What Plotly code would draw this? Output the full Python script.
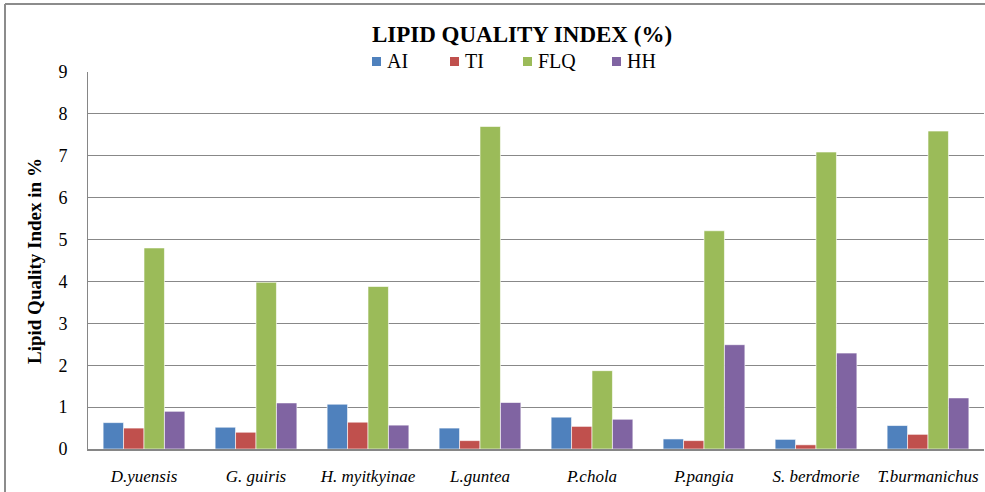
import plotly.graph_objects as go

categories = ["D.yuensis", "G. guiris", "H. myitkyinae", "L.guntea",
              "P.chola", "P.pangia", "S. berdmorie", "T.burmanichus"]
ai = [0.63, 0.52, 1.07, 0.50, 0.76, 0.24, 0.23, 0.56]
ti = [0.50, 0.40, 0.64, 0.20, 0.54, 0.20, 0.10, 0.35]
flq = [4.80, 3.98, 3.88, 7.70, 1.87, 5.21, 7.09, 7.59]
hh = [0.90, 1.10, 0.57, 1.11, 0.71, 2.49, 2.29, 1.22]
series_names = ["AI", "TI", "FLQ", "HH"]
series_colors = ["#4F81BD", "#C0504D", "#9BBB59", "#8064A2"]
y_ticks = [0, 1, 2, 3, 4, 5, 6, 7, 8, 9]

FONT = "Liberation Serif, Times New Roman, serif"

# plot-area geometry in pixels (used to place paper-referenced decorations)
L, R, T, B = 88, 984, 72, 449
W, H = R - L, B - T


def px(x):
    return (x - L) / W


def py(y):
    return (B - y) / H


fig = go.Figure()
for name, vals, col in zip(series_names, [ai, ti, flq, hh], series_colors):
    fig.add_trace(go.Bar(
        name=name, x=categories, y=vals, showlegend=False,
        marker=dict(color=col, line=dict(color="rgba(255,255,255,0.6)", width=1)),
    ))

fig.update_layout(
    width=985, height=492,
    margin=dict(l=L, r=985 - R, t=T, b=492 - B, autoexpand=False),
    paper_bgcolor="white", plot_bgcolor="white",
    barmode="group", bargap=0.27, bargroupgap=0,
    font=dict(family=FONT, color="black"),
    title=dict(text="<b>LIPID QUALITY INDEX (%)</b>", x=522 / 985, xanchor="center",
               y=1 - 34 / 492, yanchor="middle",
               font=dict(family=FONT, size=23, color="black")),
    showlegend=False,
)

fig.update_xaxes(
    automargin=False,
    showline=True, linecolor="#868686", linewidth=2,
    showgrid=False, ticks="outside", ticklen=11, tickcolor="rgba(0,0,0,0)",
    tickfont=dict(family=FONT, size=17, style="italic", color="black"),
)
fig.update_yaxes(
    automargin=False,
    range=[0, 9], tickmode="array", tickvals=y_ticks,
    showline=True, linecolor="#868686", linewidth=1,
    showgrid=True, gridcolor="#888888", gridwidth=1,
    zeroline=False, ticks="outside", ticklen=16, tickcolor="rgba(0,0,0,0)",
    tickfont=dict(family=FONT, size=18, color="black"),
)

fig.add_annotation(
    text="<b>Lipid Quality Index in %</b>", textangle=-90,
    xref="paper", yref="paper", x=px(34), y=py(261),
    xanchor="center", yanchor="middle", showarrow=False,
    font=dict(family=FONT, size=19, color="black"),
)

# custom legend (small square swatches next to the names)
legend_x = [372, 450, 523, 612]
for name, col, lx in zip(series_names, series_colors, legend_x):
    fig.add_shape(type="rect", xref="paper", yref="paper",
                  x0=px(lx), x1=px(lx + 9), y0=py(66), y1=py(57),
                  fillcolor=col, line=dict(width=0))
    fig.add_annotation(text=name, xref="paper", yref="paper",
                       x=px(lx + 13), y=py(61), xanchor="left", yanchor="middle",
                       showarrow=False, font=dict(family=FONT, size=20, color="black"))

# outer chart border (left and top edges visible)
fig.add_shape(type="line", xref="paper", yref="paper",
              x0=px(5), x1=px(5), y0=py(500), y1=py(4),
              line=dict(color="#8C8C8C", width=2))
fig.add_shape(type="line", xref="paper", yref="paper",
              x0=px(5), x1=px(990), y0=py(4), y1=py(4),
              line=dict(color="#8C8C8C", width=2))

fig.write_html("out.html", config={"displayModeBar": False},
               post_script="document.body.style.margin='0';")
